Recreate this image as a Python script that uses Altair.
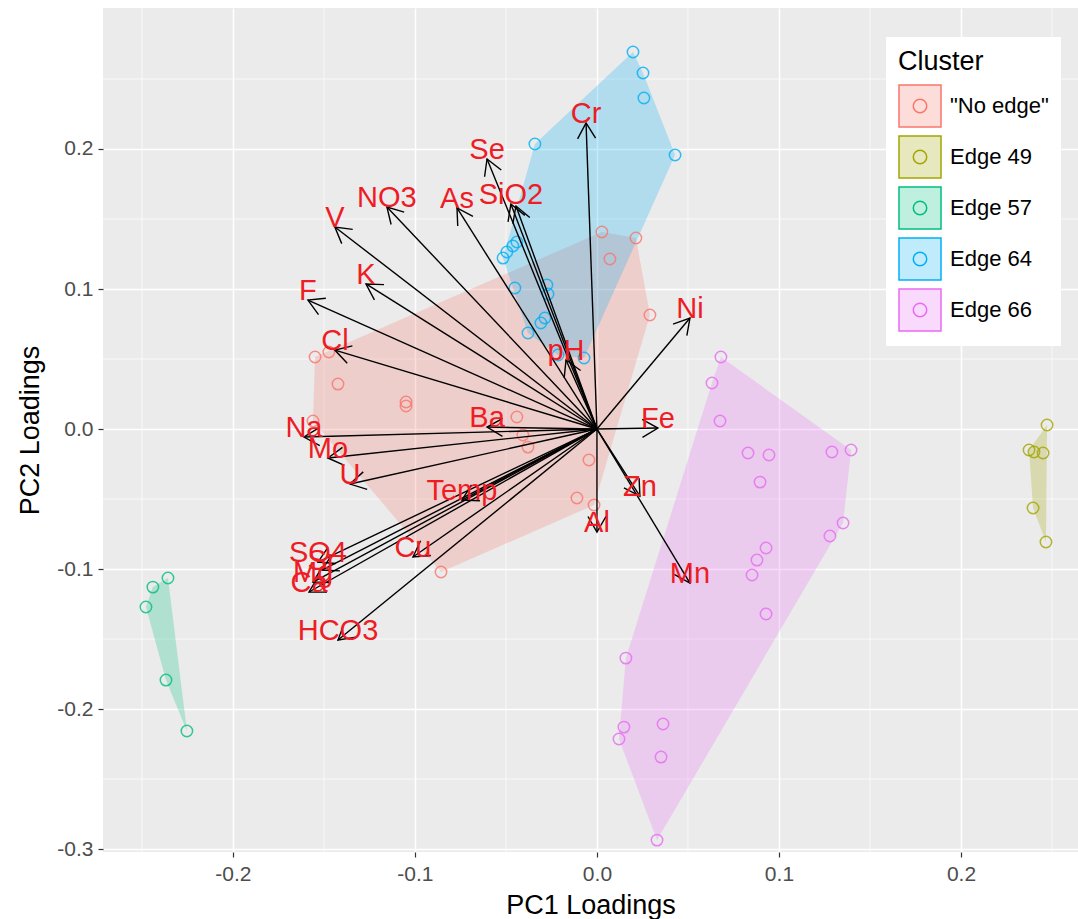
import math
import altair as alt
import pandas as pd

# ---------------- data ----------------
clusters = ['"No edge"', "Edge 49", "Edge 57", "Edge 64", "Edge 66"]
cluster_colors = ["#F8766D", "#A3A500", "#00BF7D", "#00B0F6", "#E76BF3"]
hull_fills = ["rgba(248,118,109,0.25)", "rgba(163,165,0,0.25)", "rgba(0,191,125,0.25)",
              "rgba(0,176,246,0.25)", "rgba(231,107,243,0.25)"]

noedge_x = [-0.1549, -0.1473, -0.1423, -0.1049, -0.1049, -0.1560, -0.0440, -0.0407, -0.0379,
            0.0027, 0.0214, 0.0071, 0.0291, -0.0044, -0.0110, -0.0016, -0.0857]
noedge_y = [0.0514, 0.0550, 0.0321, 0.0193, 0.0164, 0.0057, 0.0086, -0.0043, -0.0129,
            0.1407, 0.1364, 0.1214, 0.0814, -0.0221, -0.0493, -0.0543, -0.1021]

edge49_x = [0.2473, 0.2374, 0.2401, 0.2451, 0.2396, 0.2467]
edge49_y = [0.0029, -0.0150, -0.0164, -0.0171, -0.0564, -0.0807]

edge57_x = [-0.2357, -0.2440, -0.2478, -0.2368, -0.2253]
edge57_y = [-0.1064, -0.1129, -0.1271, -0.1793, -0.2157]

edge64_x = [0.0198, 0.0253, 0.0258, 0.0429, -0.0341, -0.0440, -0.0462, -0.0495, -0.0516,
            -0.0451, -0.0275, -0.0269, -0.0286, -0.0308, -0.0379, -0.0214, -0.0071]
edge64_y = [0.2693, 0.2543, 0.2364, 0.1957, 0.2036, 0.1336, 0.1307, 0.1264, 0.1221,
            0.1007, 0.1029, 0.0964, 0.0793, 0.0757, 0.0686, 0.0529, 0.0507]

edge66_x = [0.0681, 0.0632, 0.0676, 0.0830, 0.0945, 0.0896, 0.1291, 0.1396, 0.1352, 0.1280,
            0.0929, 0.0879, 0.0852, 0.0929, 0.0159, 0.0148, 0.0121, 0.0363, 0.0352, 0.0330]
edge66_y = [0.0514, 0.0329, 0.0057, -0.0171, -0.0186, -0.0379, -0.0164, -0.0150, -0.0671, -0.0764,
            -0.0850, -0.0936, -0.1043, -0.1321, -0.1636, -0.2129, -0.2214, -0.2107, -0.2343, -0.2936]

arrow_labels = ["Cr", "Se", "SiO2", "", "As", "NO3", "V", "K", "F", "Cl", "Na", "Mo", "U", "Ba",
                "pH", "Ni", "Fe", "Zn", "Al", "Mn", "Temp", "Cu", "SO4", "Sr", "Mg", "Ca", "HCO3"]
arrow_x = [-0.0060, -0.0604, -0.0473, -0.0445, -0.0769, -0.1154, -0.1440, -0.1269, -0.1588,
           -0.1440, -0.1610, -0.1478, -0.1357, -0.0604, -0.0170, 0.0511, 0.0335, 0.0236, 0.0,
           0.0511, -0.0742, -0.1011, -0.1533, -0.1511, -0.1560, -0.1582, -0.1423]
arrow_y = [0.2186, 0.1929, 0.1607, 0.1593, 0.1579, 0.1586, 0.1443, 0.1036, 0.0921,
           0.0564, -0.0057, -0.0207, -0.0393, 0.0014, 0.0493, 0.0793, 0.0007, -0.0479, -0.0736,
           -0.1100, -0.0507, -0.0914, -0.0950, -0.1007, -0.1093, -0.1164, -0.1507]

x_ticks = [-0.2, -0.1, 0.0, 0.1, 0.2]
y_ticks = [-0.3, -0.2, -0.1, 0.0, 0.1, 0.2]
x_minor = [-0.25, -0.15, -0.05, 0.05, 0.15, 0.25]
y_minor = [-0.25, -0.15, -0.05, 0.05, 0.15, 0.25]

# ---------------- layout ----------------
X_DOMAIN = [-0.2714, 0.2643]
Y_DOMAIN = [-0.3021, 0.3007]
W, H = 975, 844

# ---------------- tables ----------------
groups = [(clusters[0], noedge_x, noedge_y), (clusters[1], edge49_x, edge49_y),
          (clusters[2], edge57_x, edge57_y), (clusters[3], edge64_x, edge64_y),
          (clusters[4], edge66_x, edge66_y)]

pts_rows = []
for name, xs, ys in groups:
    for a, b in zip(xs, ys):
        pts_rows.append({"Cluster": name, "x": a, "y": b})
pts = pd.DataFrame(pts_rows)


def convex_hull(p):
    p = sorted(set(p))
    if len(p) <= 2:
        return p

    def cross(o, a, b):
        return (a[0] - o[0]) * (b[1] - o[1]) - (a[1] - o[1]) * (b[0] - o[0])
    lower, upper = [], []
    for q in p:
        while len(lower) >= 2 and cross(lower[-2], lower[-1], q) <= 0:
            lower.pop()
        lower.append(q)
    for q in reversed(p):
        while len(upper) >= 2 and cross(upper[-2], upper[-1], q) <= 0:
            upper.pop()
        upper.append(q)
    return lower[:-1] + upper[:-1]


hull_rows = []
for name, xs, ys in groups:
    h = convex_hull(list(zip(xs, ys)))
    h = h + [h[0]]
    for i, (a, b) in enumerate(h):
        hull_rows.append({"Cluster": name, "x": a, "y": b, "idx": i})
hull = pd.DataFrame(hull_rows)

sx = W / (X_DOMAIN[1] - X_DOMAIN[0])
sy = H / (Y_DOMAIN[1] - Y_DOMAIN[0])
arrows = pd.DataFrame({"label": arrow_labels, "x": arrow_x, "y": arrow_y})
arrows["x0"] = 0.0
arrows["y0"] = 0.0
arrows["ang"] = [math.degrees(math.atan2(-b * sy, a * sx)) % 360 for a, b in zip(arrow_x, arrow_y)]
labels = arrows[arrows["label"] != ""]

xs = alt.Scale(domain=X_DOMAIN, nice=False, zero=False)
ys = alt.Scale(domain=Y_DOMAIN, nice=False, zero=False)

KEY_PATH = ("M -1 -1 L 1 -1 L 1 1 L -1 1 Z "
            "M 0.32 0 A 0.32 0.32 0 1 1 -0.32 0 A 0.32 0.32 0 1 1 0.32 0 Z")
legend_kw = dict(title="Cluster", orient="none", legendX=783, legendY=29,
                 symbolType=KEY_PATH, symbolSize=1764, symbolStrokeWidth=1.5,
                 labelFontSize=22, labelColor="black", titleFontSize=27,
                 titleFontWeight="normal", titleColor="black", fillColor="white",
                 padding=12, rowPadding=3, labelOffset=8, titlePadding=8)

label_expr = "replace(format(datum.value, '.1f'), '\u2212', '-')"
x_axis = alt.Axis(values=x_ticks, labelExpr=label_expr, title="PC1 Loadings")
y_axis = alt.Axis(values=y_ticks, labelExpr=label_expr, title="PC2 Loadings")

minor_v = alt.Chart(pd.DataFrame({"x": x_minor})).mark_rule(
    color="white", strokeWidth=0.7).encode(x=alt.X("x:Q", scale=xs, axis=x_axis))
minor_h = alt.Chart(pd.DataFrame({"y": y_minor})).mark_rule(
    color="white", strokeWidth=0.7).encode(y=alt.Y("y:Q", scale=ys, axis=y_axis))

hull_layer = alt.Chart(hull).mark_line(strokeWidth=0, strokeOpacity=0).encode(
    x=alt.X("x:Q", scale=xs, axis=x_axis),
    y=alt.Y("y:Q", scale=ys, axis=y_axis),
    order="idx:Q",
    fill=alt.Fill("Cluster:N", scale=alt.Scale(domain=clusters, range=hull_fills),
                  legend=alt.Legend(**legend_kw)),
)

pt_layer = alt.Chart(pts).mark_point(shape="circle", size=130, filled=False,
                                      strokeWidth=1.5, opacity=0.8).encode(
    x=alt.X("x:Q", scale=xs, axis=x_axis),
    y=alt.Y("y:Q", scale=ys, axis=y_axis),
    stroke=alt.Stroke("Cluster:N", scale=alt.Scale(domain=clusters, range=cluster_colors),
                      legend=alt.Legend(**legend_kw)),
)

rule_layer = alt.Chart(arrows).mark_rule(color="black", strokeWidth=1.4).encode(
    x=alt.X("x0:Q", scale=xs, axis=x_axis), y=alt.Y("y0:Q", scale=ys, axis=y_axis),
    x2="x:Q", y2="y:Q")

head_layer = alt.Chart(arrows).mark_point(
    shape="M -0.866 -0.5 L 0 0 L -0.866 0.5", size=1296, filled=False,
    color="black", strokeWidth=1.4, opacity=1).encode(
    x=alt.X("x:Q", scale=xs, axis=x_axis), y=alt.Y("y:Q", scale=ys, axis=y_axis),
    angle=alt.Angle("ang:Q", scale=None))

text_layer = alt.Chart(labels).mark_text(
    fontSize=29, color="#EE1C25", dy=-9, baseline="middle", align="center").encode(
    x=alt.X("x:Q", scale=xs, axis=x_axis), y=alt.Y("y:Q", scale=ys, axis=y_axis),
    text="label:N")

chart = alt.layer(minor_v, minor_h, hull_layer, pt_layer, rule_layer, head_layer, text_layer).properties(
    width=W, height=H,
    autosize=alt.AutoSizeParams(type="none"),
    padding={"left": 103, "top": 8, "right": 0, "bottom": 67},
).configure(font="Liberation Sans", background="white").configure_view(
    fill="#EBEBEB", stroke=None
).configure_axis(
    domain=False, grid=True, gridColor="white", gridWidth=1.5,
    tickColor="#333333", tickSize=5, tickWidth=1.2,
    labelFontSize=21, labelColor="#4D4D4D",
    titleFontSize=27, titleFontWeight="normal", titleColor="black",
).configure_axisX(labelPadding=6, titlePadding=8).configure_axisY(labelPadding=5, titlePadding=12)

chart.save("out.html", embed_options={"renderer": "svg", "actions": False})
